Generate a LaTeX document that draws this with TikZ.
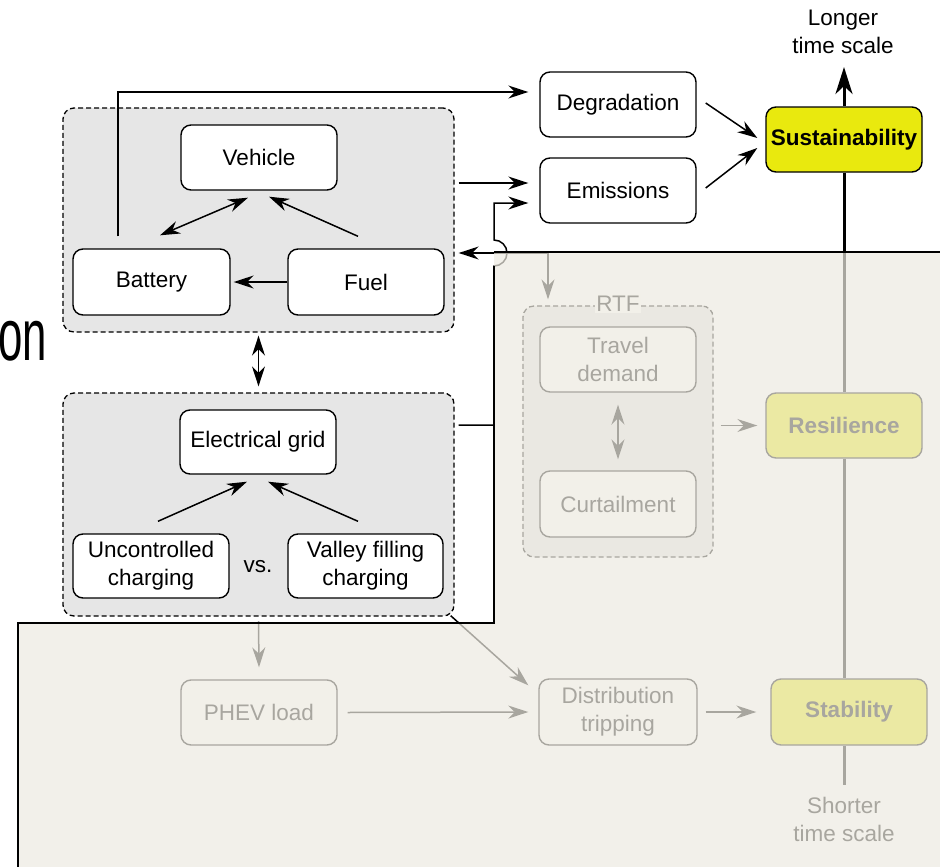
\documentclass[tikz,border=0pt]{standalone}
\usepackage{fontspec}
\usepackage{graphicx}
\setmainfont{Liberation Sans}
\usetikzlibrary{arrows.meta,calc}
\definecolor{groupgray}{RGB}{230,230,230}
\definecolor{sustyellow}{RGB}{233,233,14}
\definecolor{veil}{RGB}{237,234,225}

\begin{document}
\begin{tikzpicture}[x=1pt,y=-1pt,
  >={Stealth[length=20pt,width=13pt,inset=6.5pt]},
  every node/.style={font=\fontsize{22.5}{28}\selectfont},
  card/.style={draw=black, line width=1.4pt, fill=white, rounded corners=10pt,
    minimum width=156pt, minimum height=65pt, align=center, inner sep=0pt},
  group/.style={draw=black, dash pattern=on 5pt off 3pt, line width=1.3pt,
    fill=groupgray, rounded corners=11pt, inner sep=0pt},
  arr/.style={line width=1.5pt, ->},
  darr/.style={line width=1.5pt, <->},
  axis/.style={line width=3pt},
  strong/.style={font=\fontsize{22.5}{28}\selectfont\bfseries},
]
\useasboundingbox (0,0) rectangle (940,867);

% large condensed fragment on the left edge
\node[font=\fontsize{73}{80}\selectfont, anchor=base west, inner sep=0pt] (fragment) at (-2,360) {\scalebox{0.6}[1]{on}};

% grouping frames
\node[group, minimum width=391pt, minimum height=224pt] (vgroup) at (258.5,220) {};
\node[group, minimum width=391pt, minimum height=223pt] (ggroup) at (258.5,504.5) {};
\node[group, minimum width=190pt, minimum height=251pt] (rtfgroup) at (618,431.5) {};
\node[fill=white, inner sep=1.5pt] (rtflabel) at ($(rtfgroup.north)+(0,-2)$) {RTF};

% vehicle side
\node[card] (vehicle) at (259,157.5) {Vehicle};
\node[card, minimum width=157pt, minimum height=66pt] (battery) at (151.5,282) {Battery};
\node[card, minimum height=66pt] (fuel) at (366,282) {Fuel};

% grid side
\node[card, minimum height=64pt] (grid) at (258,442) {Electrical grid};
\node[card, minimum height=64pt] (unctrl) at (151,566) {Uncontrolled\\charging};
\node[card, minimum width=155pt, minimum height=64pt] (valley) at (365.5,566) {Valley filling\\charging};
\node (vs) at (258,567) {vs.};

% outcomes
\node[card] (degr) at (618,104.5) {Degradation};
\node[card] (emis) at (618,190.5) {Emissions};
\node[card] (travel) at (618,359.5) {Travel\\demand};
\node[card, minimum height=66pt] (curt) at (618,504) {Curtailment};
\node[card] (phev) at (259,712.5) {PHEV load};
\node[card, minimum width=158pt, minimum height=66pt] (distr) at (618,712) {Distribution\\tripping};

% time-scale axis
\node[card, strong, fill=sustyellow] (sust) at (844,139.5) {Sustainability};
\node[card, strong, fill=sustyellow] (resil) at (844,425.5) {Resilience};
\node[card, strong, fill=sustyellow, minimum height=66pt] (stab) at (849,712) {Stability};
\node[align=center] (longer) at (843,31.5) {Longer\\time scale};
\node[align=center] (shorter) at (844,819) {Shorter\\time scale};
\coordinate (uptip) at (844,67);
\coordinate (axisend) at (844,785);

\draw[axis, -{Stealth[length=27pt,width=17pt,inset=8pt]}] (sust.north) -- (uptip);
\draw[axis] (sust.south) -- (resil.north);
\draw[axis] (resil.south) -- (resil.south |- stab.north);
\draw[axis] (axisend |- stab.south) -- (axisend);

% links inside the vehicle frame
\draw[darr] ($(battery.north)+(8.5,-13)$) -- ($(vehicle.south)+(-11,7)$);
\draw[arr] ($(fuel.north)+(-8,-12)$) -- ($(vehicle.south)+(10,6)$);
\draw[arr] (fuel.west) -- ($(battery.east)+(3,0)$);

% links inside the grid frame
\draw[arr] ($(unctrl.north)+(7,-12)$) -- ($(grid.south)+(-11,7)$);
\draw[arr] ($(valley.north)+(-7.5,-12)$) -- ($(grid.south)+(10,7)$);

% between the frames
\draw[darr] ($(vgroup.south)+(0,3)$) -- ($(ggroup.north)+(0,-6)$);

% towards degradation and emissions
\draw[arr] ($(battery.north)+(-33.5,-12)$) |- ($(degr.west)+(-11,-12.5)$);
\draw[arr] ($(vgroup.east)+(4,-37)$) -- ($(emis.west)+(-11,-7.5)$);
\draw[darr] ($(vgroup.east)+(4,33)$) -| ($(rtfgroup.north)+(-70,-6)$);
\coordinate (hop) at (494,253);
\draw[arr] ($(ggroup.east)+(4,-79.5)$) -| ($(hop)+(0,13)$)
  arc[start angle=-90, end angle=90, radius=13pt] |- ($(emis.west)+(-11,12.5)$);

% links towards sustainability
\draw[arr] ($(degr.east)+(9,-1.5)$) -- ($(sust.west)+(-8,-1.5)$);
\draw[arr] ($(emis.east)+(9,-2.5)$) -- ($(sust.west)+(-8,8.5)$);

% shorter time-scale effects
\draw[darr] ($(travel.south)+(0,12)$) -- ($(curt.north)+(0,-11)$);
\draw[arr] ($(rtfgroup.east |- resil.west)+(7,0)$) -- ($(resil.west)+(-8,0)$);
\draw[arr] ($(ggroup.south)+(0,5)$) -- ($(phev.north)+(0,-12)$);
\draw[arr] ($(phev.east)+(10,0)$) -- ($(distr.west)+(-10,0)$);
\draw[arr] ($(ggroup.south east)+(-4,-1)$) -- ($(distr.north west)+(-10,7)$);
\draw[arr] ($(distr.east)+(8,0)$) -- ($(stab.west)+(-14,0)$);

% translucent veil over the short-term part
\fill[veil, fill opacity=0.71] (18,867) -- (18,623) -- (494,623) -- (494,252)
  -- (940,252) -- (940,867) -- cycle;
\draw[line width=1.8pt] (18,867) -- (18,623) -- (494,623) -- (494,266);
\draw[line width=1.6pt] (494,252) -- (940,252);
\end{tikzpicture}
\end{document}
